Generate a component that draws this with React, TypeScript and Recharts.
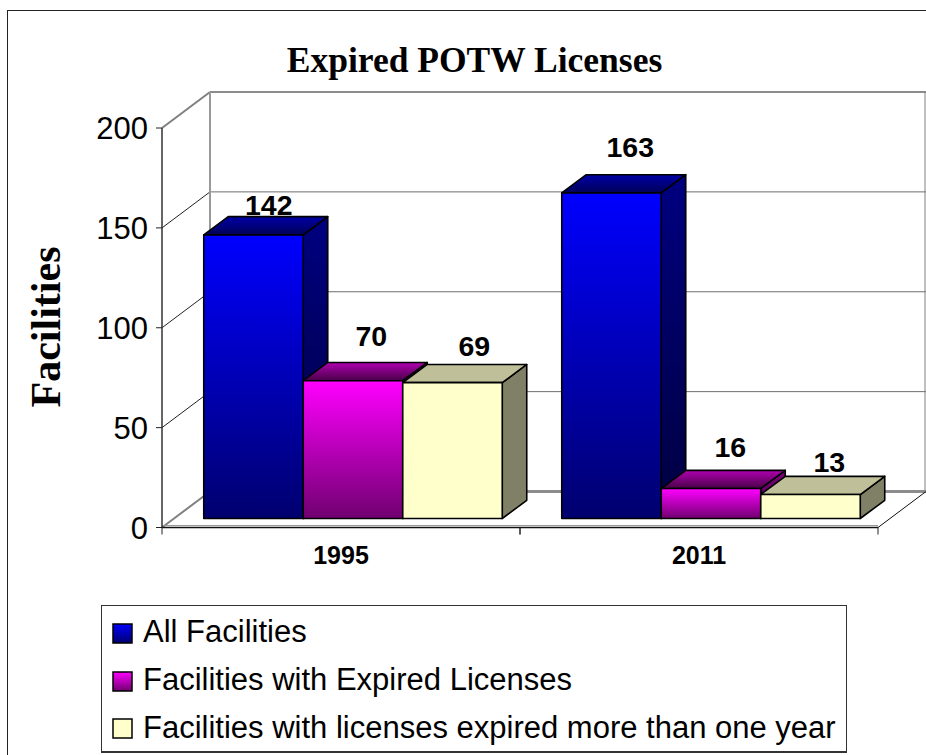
import React from "react";
import { BarChart, Bar, XAxis, YAxis, CartesianGrid, LabelList, Legend } from "recharts";

const categories = ["1995", "2011"];
const allFacilities = [142, 163];
const expiredLicenses = [70, 16];
const expiredOverOneYear = [69, 13];
const yTicks = [0, 50, 100, 150, 200];

const seriesNames = {
  all: "All Facilities",
  expired: "Facilities with Expired Licenses",
  overYear: "Facilities with licenses expired more than one year",
};

const tableRows = categories.map((c, i) => ({
  category: c,
  all: allFacilities[i],
  expired: expiredLicenses[i],
  overYear: expiredOverOneYear[i],
}));

// geometry of the fake 3D box
const WIDTH = 926;
const HEIGHT = 755;
const PLOT_LEFT = 162;
const PLOT_TOP = 128;
const PLOT_RIGHT = 878;
const PLOT_BOTTOM = 527.5;
const WALL_DX = 48;
const WALL_DY = -36;
const BAR_DX = 11.75;
const BAR_DY = -9;
const DEPTH_DX = 24.5;
const DEPTH_DY = -18.2;
const SANS = "'Liberation Sans', Arial, sans-serif";
const SERIF = "'Liberation Serif', 'Times New Roman', serif";

const faces = {
  all: { front: "url(#allFront)", top: "url(#allTop)", side: "url(#allSide)", inset: 0 },
  expired: { front: "url(#expFront)", top: "url(#expTop)", side: "url(#expSide)", inset: 2 },
  overYear: { front: "#FFFFCC", top: "#BFBF99", side: "#808066", inset: 2 },
};

const labelNudge = {
  all: [{ dx: 15.25, dy: -20 }, { dx: 18.75, dy: -36 }],
  expired: [{ dx: 18.25, dy: -33 }, { dx: 19.25, dy: -29.5 }],
  overYear: [{ dx: 21.75, dy: -25 }, { dx: 18.75, dy: -20.5 }],
};

const makeBox = (kind: keyof typeof faces) => (props: any) => {
  const { x, y, width, height } = props;
  const f = faces[kind];
  const l = x + BAR_DX;
  const t = y + BAR_DY + f.inset;
  const r = l + width;
  const b = y + BAR_DY + height;
  const common = { stroke: "#000", strokeWidth: 1.6, strokeLinejoin: "round" as const };
  return (
    <g>
      <polygon points={`${r},${t} ${r + DEPTH_DX},${t + DEPTH_DY} ${r + DEPTH_DX},${b + DEPTH_DY} ${r},${b}`} fill={f.side} {...common} />
      <polygon points={`${l},${t} ${l + DEPTH_DX},${t + DEPTH_DY} ${r + DEPTH_DX},${t + DEPTH_DY} ${r},${t}`} fill={f.top} {...common} />
      <rect x={l} y={t} width={width} height={b - t} fill={f.front} {...common} />
    </g>
  );
};

const makeLabel = (kind: keyof typeof labelNudge) => (props: any) => {
  const { x, y, width, value, index } = props;
  const n = labelNudge[kind][index];
  return (
    <text
      x={x + BAR_DX + width / 2 + n.dx}
      y={y + BAR_DY + n.dy}
      textAnchor="middle"
      fontFamily={SANS}
      fontWeight="bold"
      fontSize={28.5}
      fill="#000"
    >
      {value}
    </text>
  );
};

const gridLine = (props: any) => {
  const { x1, x2, y1, index } = props;
  const isTop = Math.abs(y1 - PLOT_TOP) < 1;
  const isFloor = Math.abs(y1 - PLOT_BOTTOM) < 1;
  const heavy = isTop || isFloor;
  const color = heavy ? "#8C8C8C" : "#6E6E6E";
  const w = heavy ? 2 : 1;
  return (
    <g key={`grid-${index}-${y1}`}>
      <line x1={x1} y1={y1} x2={x1 + WALL_DX} y2={y1 + WALL_DY} stroke={heavy ? "#808080" : "#222"} strokeWidth={w} />
      <line x1={x1 + WALL_DX} y1={y1 + WALL_DY} x2={x2 + WALL_DX} y2={y1 + WALL_DY} stroke={color} strokeWidth={isFloor ? 3 : w} />
      {isTop && (
        <>
          <line x1={x1 + WALL_DX} y1={y1 + WALL_DY} x2={x1 + WALL_DX} y2={PLOT_BOTTOM + WALL_DY} stroke="#999" strokeWidth={2} />
          <line x1={x2 + WALL_DX - 1} y1={y1 + WALL_DY} x2={x2 + WALL_DX - 1} y2={PLOT_BOTTOM + WALL_DY} stroke="#808080" strokeWidth={1} />
        </>
      )}
      {isFloor && (
        <>
          <line x1={x2} y1={y1} x2={x2 + WALL_DX} y2={y1 + WALL_DY} stroke="#111" strokeWidth={1} />
          <line x1={x1} y1={y1 - 2} x2={x2} y2={y1 - 2} stroke="#999" strokeWidth={1} />
        </>
      )}
    </g>
  );
};

const XTick = (props: any) => {
  const { x, y, payload } = props;
  const half = (PLOT_RIGHT - PLOT_LEFT) / 4;
  return (
    <g>
      <line x1={x - half} y1={PLOT_BOTTOM} x2={x - half} y2={PLOT_BOTTOM + 7} stroke="#222" strokeWidth={1} />
      <line x1={x + half} y1={PLOT_BOTTOM} x2={x + half} y2={PLOT_BOTTOM + 7} stroke="#222" strokeWidth={1} />
      <text x={x} y={y + 28} textAnchor="middle" fontFamily={SANS} fontWeight="bold" fontSize={25} fill="#000">
        {payload.value}
      </text>
    </g>
  );
};

const legendSwatches: Record<string, string> = {
  all: "url(#allFront)",
  expired: "url(#expFront)",
  overYear: "#FFFFCC",
};

const LegendBox = (props: any) => {
  const items = props.payload || [];
  return (
    <div
      style={{
        boxSizing: "border-box",
        width: 746,
        height: 148,
        border: "1px solid #333",
        borderBottomWidth: 2,
        background: "#fff",
        position: "relative",
        fontFamily: SANS,
        fontSize: 31,
        color: "#000",
      }}
    >
      {items.map((it: any, i: number) => (
        <div key={it.dataKey} style={{ position: "absolute", left: 0, top: 0, width: "100%" }}>
          <svg width={24} height={24} style={{ position: "absolute", left: 9, top: 16 + i * 47.6 }}>
            <rect x={2} y={2} width={19} height={19} fill={legendSwatches[it.dataKey]} stroke="#000" strokeWidth={1.5} />
          </svg>
          <span style={{ position: "absolute", left: 41, top: 8 + i * 47.8, whiteSpace: "nowrap", lineHeight: "36px" }}>
            {it.value}
          </span>
        </div>
      ))}
    </div>
  );
};

export default function App() {
  return (
    <div style={{ position: "absolute", left: 0, top: 0, width: WIDTH, height: HEIGHT, overflow: "hidden", background: "#fff" }}>
      <div
        style={{
          position: "absolute",
          left: 7,
          top: 10,
          width: WIDTH + 20,
          height: HEIGHT + 20,
          borderLeft: "1.5px solid #222",
          borderTop: "1.5px solid #222",
          boxSizing: "border-box",
        }}
      />
      <div style={{ position: "absolute", left: 0, top: 0 }}>
        <BarChart
          width={WIDTH}
          height={HEIGHT}
          data={tableRows}
          barSize={99.5}
          barGap={0}
          margin={{ top: PLOT_TOP, right: WIDTH - PLOT_RIGHT, bottom: HEIGHT - PLOT_BOTTOM - 40, left: 0 }}
        >
          <defs>
            <linearGradient id="allFront" x1="0" y1="0" x2="0" y2="1">
              <stop offset="0%" stopColor="#0000FF" />
              <stop offset="100%" stopColor="#00006E" />
            </linearGradient>
            <linearGradient id="allTop" x1="0" y1="0" x2="0" y2="1">
              <stop offset="0%" stopColor="#0000A6" />
              <stop offset="100%" stopColor="#000058" />
            </linearGradient>
            <linearGradient id="allSide" x1="0" y1="0" x2="0" y2="1">
              <stop offset="0%" stopColor="#000080" />
              <stop offset="100%" stopColor="#000040" />
            </linearGradient>
            <linearGradient id="expFront" x1="0" y1="0" x2="0" y2="1">
              <stop offset="0%" stopColor="#FF00FF" />
              <stop offset="100%" stopColor="#700070" />
            </linearGradient>
            <linearGradient id="expTop" x1="0" y1="0" x2="0" y2="1">
              <stop offset="0%" stopColor="#B000B0" />
              <stop offset="100%" stopColor="#480048" />
            </linearGradient>
            <linearGradient id="expSide" x1="0" y1="0" x2="0" y2="1">
              <stop offset="0%" stopColor="#800080" />
              <stop offset="100%" stopColor="#400040" />
            </linearGradient>
          </defs>
          <text x={474.5} y={72} textAnchor="middle" fontFamily={SERIF} fontWeight="bold" fontSize={35.5} fill="#000">
            Expired POTW Licenses
          </text>
          <CartesianGrid horizontal={gridLine} vertical={false} />
          <XAxis
            dataKey="category"
            height={40}
            tick={<XTick />}
            tickLine={false}
            axisLine={{ stroke: "#111", strokeWidth: 1.5 }}
            interval={0}
          />
          <YAxis
            width={PLOT_LEFT}
            domain={[0, 200]}
            ticks={yTicks}
            interval={0}
            tickSize={6}
            tickMargin={8}
            tick={{ fontFamily: SANS, fontSize: 31, fill: "#000" }}
            tickLine={{ stroke: "#222" }}
            axisLine={{ stroke: "#333", strokeWidth: 1.5 }}
            label={(p: any) => (
              <text
                transform="translate(60,327) rotate(-90)"
                textAnchor="middle"
                fontFamily={SERIF}
                fontWeight="bold"
                fontSize={42}
                fill="#000"
              >
                Facilities
              </text>
            )}
          />
          <Legend
            layout="vertical"
            align="center"
            verticalAlign="middle"
            content={<LegendBox />}
            wrapperStyle={{ left: 101, top: 605, width: 746, height: 148 }}
          />
          <Bar dataKey="all" name={seriesNames.all} fill="#0000FF" shape={makeBox("all")} isAnimationActive={false}>
            <LabelList dataKey="all" content={makeLabel("all")} />
          </Bar>
          <Bar dataKey="expired" name={seriesNames.expired} fill="#FF00FF" shape={makeBox("expired")} isAnimationActive={false}>
            <LabelList dataKey="expired" content={makeLabel("expired")} />
          </Bar>
          <Bar dataKey="overYear" name={seriesNames.overYear} fill="#FFFFCC" shape={makeBox("overYear")} isAnimationActive={false}>
            <LabelList dataKey="overYear" content={makeLabel("overYear")} />
          </Bar>
        </BarChart>
      </div>
    </div>
  );
}
